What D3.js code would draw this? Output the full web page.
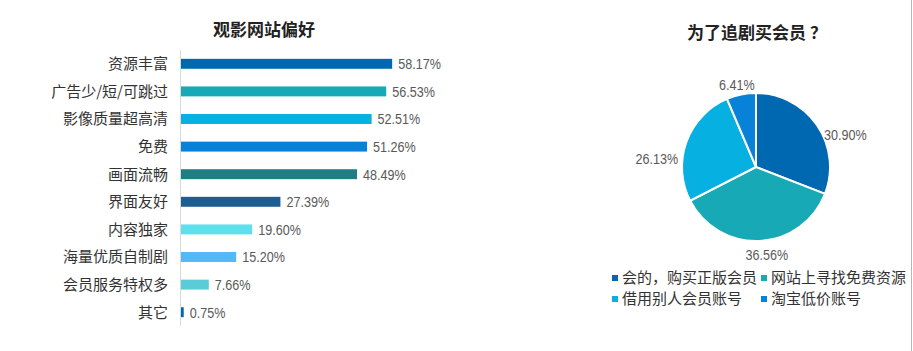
<!DOCTYPE html>
<html><head><meta charset="utf-8">
<script src="https://cdn.jsdelivr.net/npm/d3@7"></script>
<style>body{margin:0;background:#fff;}svg{display:block;font-family:"Noto Sans CJK SC","Liberation Sans",sans-serif;}</style>
</head><body><svg id="c" width="913" height="351"></svg>
<script>
const barCategories = ["资源丰富","广告少/短/可跳过","影像质量超高清","免费","画面流畅","界面友好","内容独家","海量优质自制剧","会员服务特权多","其它"];
const barValues = [58.17,56.53,52.51,51.26,48.49,27.39,19.60,15.20,7.66,0.75];
const barColors = ["#0068b0","#17a9b6","#06b0e1","#0782d8","#1f7d84","#1c5e92","#5ee0ec","#53b8f8","#5bcbd8","#0068b0"];
const pieCategories = ["会的，购买正版会员","网站上寻找免费资源","借用别人会员账号","淘宝低价账号"];
const pieValues = [30.90,36.56,26.13,6.41];
const pieColors = ["#0068b0","#17a9b6","#06b0e1","#0782d8"];

const svg = d3.select("#c");
svg.append("line").attr("x1",911.5).attr("x2",911.5).attr("y1",0).attr("y2",351).attr("stroke","#b4b4c4").attr("stroke-width",1);

const numFont = "Liberation Sans, Arial, sans-serif";
const squeeze = 0.84;

// ---- Bar chart ----
const x = d3.scaleLinear().domain([0,100]).range([181,181+363]);
const y = d3.scaleBand().domain(barCategories).range([50,326]).paddingInner(0.64).paddingOuter(0.32);
svg.append("text").attr("x",264).attr("y",36).attr("text-anchor","middle").attr("font-size",17).attr("font-weight","bold").attr("fill","#222").text("观影网站偏好");
const g = svg.append("g");
g.append("line").attr("x1",180.5).attr("x2",180.5).attr("y1",50).attr("y2",326).attr("stroke","#d9d9d9");
g.selectAll("rect.b").data(barCategories).join("rect").attr("class","b")
  .attr("x",x(0)).attr("y",d=>y(d)).attr("height",y.bandwidth())
  .attr("width",(d,i)=>x(barValues[i])-x(0)).attr("fill",(d,i)=>barColors[i]);
g.selectAll("text.cat").data(barCategories).join("text").attr("class","cat")
  .attr("x",168).attr("y",d=>y(d)+y.bandwidth()/2).attr("dy","0.36em").attr("text-anchor","end")
  .attr("font-size",15).attr("fill","#333").text(d=>d);
g.selectAll("text.v").data(barCategories).join("text").attr("class","v")
  .attr("transform",(d,i)=>`translate(${x(barValues[i])+6},${y(d)+y.bandwidth()/2}) scale(${squeeze},1)`)
  .attr("dy","0.36em")
  .attr("font-family",numFont)
  .attr("font-size",15).attr("fill","#595959").text((d,i)=>barValues[i].toFixed(2)+"%");

// ---- Pie chart ----
const cx=756, cy=167, r=74;
svg.append("text").attr("x",757).attr("y",39).attr("text-anchor","middle").attr("font-size",17).attr("font-weight","bold").attr("fill","#222").text("为了追剧买会员 ？");
const pie = d3.pie().sort(null).value(d=>d)(pieValues);
const arc = d3.arc().innerRadius(0).outerRadius(r);
const pg = svg.append("g").attr("transform",`translate(${cx},${cy})`);
pg.selectAll("path").data(pie).join("path").attr("d",arc).attr("fill",(d,i)=>pieColors[i]).attr("stroke","#fff").attr("stroke-width",2);
const labelArc = d3.arc().innerRadius(r+22).outerRadius(r+22);
const labelOffsets = [[10,22],[6,-8],[-9,24],[0,12]];
pg.selectAll("text").data(pie).join("text")
  .attr("transform",(d,i)=>`translate(${labelArc.centroid(d)[0]+labelOffsets[i][0]},${labelArc.centroid(d)[1]+labelOffsets[i][1]}) scale(${squeeze},1)`)
  .attr("dy","0.36em").attr("text-anchor","middle")
  .attr("font-family",numFont)
  .attr("font-size",15).attr("fill","#595959").text((d,i)=>pieValues[i].toFixed(2)+"%");

// legend
const lx=[612,761], ly=[278,299];
const lg = svg.append("g");
pieCategories.forEach((c,i)=>{
  const px=lx[i%2], py=ly[Math.floor(i/2)];
  lg.append("rect").attr("x",px).attr("y",py-3).attr("width",6).attr("height",6).attr("fill",pieColors[i]);
  lg.append("text").attr("x",px+10).attr("y",py).attr("dy","0.36em").attr("font-size",15).attr("fill","#333").text(c);
});
</script></body></html>
